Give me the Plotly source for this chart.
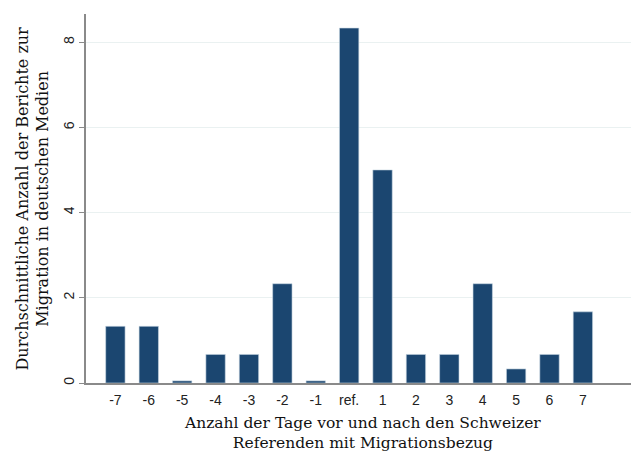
import plotly.graph_objects as go

categories = ["-7", "-6", "-5", "-4", "-3", "-2", "-1", "ref.", "1", "2", "3", "4", "5", "6", "7"]
values = [1.33, 1.33, 0.05, 0.67, 0.67, 2.33, 0.05, 8.33, 5.0, 0.67, 0.67, 2.33, 0.33, 0.67, 1.67]
y_ticks = [0, 2, 4, 6, 8]

xpos = list(range(len(categories)))

fig = go.Figure()
fig.add_trace(go.Bar(
    x=xpos, y=values, width=0.58,
    marker=dict(color="#1b4670", line=dict(color="#c9d6e2", width=0.6)),
))

# page body has an 8px margin; compensate so the figure fills the window
fig.update_layout(
    width=631, height=447,
    margin=dict(l=78, r=0, t=6, b=72, autoexpand=False),
    plot_bgcolor="white", paper_bgcolor="white",
    showlegend=False,
    xaxis=dict(
        range=[-0.88, 15.68], tickvals=xpos, ticktext=categories,
        showgrid=False, zeroline=False, automargin=False,
        showline=True, linecolor="#8a8a8a", linewidth=1.5,
        ticks="outside", ticklen=3, tickcolor="rgba(0,0,0,0)",
        tickfont=dict(family="Liberation Sans, Arial", size=14, color="#222"),
    ),
    yaxis=dict(
        range=[0, 8.66], tickvals=y_ticks, tickangle=-90, automargin=False,
        showgrid=True, gridcolor="#eaf1f1", gridwidth=1,
        zeroline=False, showline=True, linecolor="#8a8a8a", linewidth=1.5,
        ticks="outside", ticklen=5, tickcolor="#8a8a8a",
        tickfont=dict(family="Liberation Sans, Arial", size=14, color="#222"),
    ),
    annotations=[
        dict(text="Anzahl der Tage vor und nach den Schweizer<br>Referenden mit Migrationsbezug",
             xref="paper", yref="paper", x=0.5, y=0, yshift=-29, xanchor="center", yanchor="top",
             showarrow=False, font=dict(family="DejaVu Serif", size=15.5, color="#111")),
        dict(text="Durchschnittliche Anzahl der Berichte zur<br>Migration in deutschen Medien",
             xref="paper", yref="paper", x=0, xshift=-54, y=0.5, textangle=-90,
             xanchor="center", yanchor="middle",
             showarrow=False, font=dict(family="DejaVu Serif", size=16, color="#111")),
    ],
)

fig.write_html("out.html")
